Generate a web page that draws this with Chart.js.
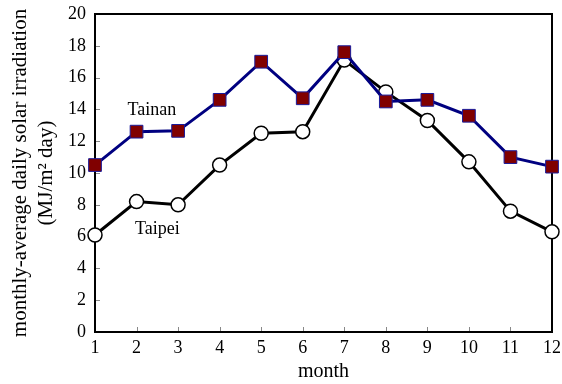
<!DOCTYPE html>
<html>
<head>
<meta charset="utf-8">
<script src="https://cdn.jsdelivr.net/npm/chart.js@4/dist/chart.umd.min.js"></script>
<style>
  html, body { margin: 0; padding: 0; background: #fff; }
  #wrap { width: 562px; height: 384px; }
</style>
</head>
<body>
<div id="wrap"><canvas id="myChart" width="562" height="384"></canvas></div>
<script>
var months = [1, 2, 3, 4, 5, 6, 7, 8, 9, 10, 11, 12];
var tainan = [10.5, 12.6, 12.65, 14.6, 17.0, 14.7, 17.6, 14.5, 14.6, 13.6, 11.0, 10.4];
var taipei = [6.1, 8.2, 8.0, 10.5, 12.5, 12.6, 17.1, 15.1, 13.3, 10.7, 7.6, 6.3];
var yTicks = [0, 2, 4, 6, 8, 10, 12, 14, 16, 18, 20];

var serif = '"Liberation Serif", "DejaVu Serif", serif';

// in-plot series labels (month, value)
var seriesLabels = [
  { text: 'Tainan', x: 2.37, y: 13.96 },
  { text: 'Taipei', x: 2.5, y: 6.48 }
];

var frame = {
  id: 'frame',
  beforeDatasetsDraw: function(chart) {
    var ctx = chart.ctx, a = chart.chartArea;
    var xs = chart.scales.x, ys = chart.scales.y;
    ctx.save();
    // inward ticks
    ctx.strokeStyle = '#888';
    ctx.lineWidth = 1;
    ctx.beginPath();
    months.forEach(function(m) {
      var px = Math.round(xs.getPixelForValue(m)) + 0.5;
      ctx.moveTo(px, a.bottom);
      ctx.lineTo(px, a.bottom - 5);
    });
    yTicks.forEach(function(v) {
      var py = Math.round(ys.getPixelForValue(v)) + 0.5;
      ctx.moveTo(a.left, py);
      ctx.lineTo(a.left + 5, py);
    });
    ctx.stroke();
    // box
    ctx.strokeStyle = '#000';
    ctx.lineWidth = 2;
    ctx.strokeRect(a.left, a.top, a.right - a.left, a.bottom - a.top);
    // series labels
    ctx.fillStyle = '#000';
    ctx.font = '18px ' + serif;
    ctx.textAlign = 'center';
    ctx.textBaseline = 'middle';
    seriesLabels.forEach(function(l) {
      ctx.fillText(l.text, xs.getPixelForValue(l.x), ys.getPixelForValue(l.y));
    });
    ctx.restore();
  }
};

new Chart('myChart', {
  type: 'line',
  data: {
    labels: months,
    datasets: [{
      label: 'Tainan',
      data: tainan,
      borderColor: '#000080',
      borderWidth: 3,
      backgroundColor: '#800000',
      pointStyle: 'rect',
      pointRadius: 9,
      pointBorderColor: '#1a1a9a',
      pointBorderWidth: 1,
      pointBackgroundColor: '#800000',
      clip: false
    }, {
      label: 'Taipei',
      data: taipei,
      borderColor: '#000',
      borderWidth: 3,
      backgroundColor: '#fff',
      pointStyle: 'circle',
      pointRadius: 7,
      pointBorderColor: '#000',
      pointBorderWidth: 1.5,
      pointBackgroundColor: '#fff',
      clip: false
    }]
  },
  options: {
    responsive: false,
    animation: false,
    layout: { padding: { top: 14, right: 9, left: 0, bottom: 0 } },
    plugins: {
      legend: { display: false },
      title: { display: false },
      tooltip: { enabled: false }
    },
    scales: {
      x: {
        type: 'linear',
        min: 1,
        max: 12,
        afterFit: function(s) {
          s.height = 52;
          s.paddingLeft = 0;
          s.paddingRight = 0;
        },
        afterBuildTicks: function(s) { s.ticks = months.map(function(v) { return { value: v }; }); },
        ticks: {
          color: '#000',
          padding: 5,
          maxRotation: 0,
          font: { size: 18, family: serif }
        },
        grid: { display: false, drawTicks: false },
        border: { display: false },
        title: {
          display: true,
          text: 'month',
          color: '#000',
          padding: { top: 0, bottom: 0 },
          font: { size: 20, family: serif }
        }
      },
      y: {
        min: 0,
        max: 20,
        afterFit: function(s) {
          s.width = 95;
          s.paddingTop = 0;
          s.paddingBottom = 0;
        },
        afterBuildTicks: function(s) { s.ticks = yTicks.map(function(v) { return { value: v }; }); },
        ticks: {
          color: '#000',
          padding: 9,
          font: { size: 18, family: serif }
        },
        grid: { display: false, drawTicks: false },
        border: { display: false },
        title: {
          display: true,
          text: ['monthly-average daily solar irradiation', '(MJ/m\u00B2 day)'],
          color: '#000',
          padding: { top: 7, bottom: 0 },
          font: { size: 21, family: serif, lineHeight: 1.25 }
        }
      }
    }
  },
  plugins: [frame]
});
</script>
</body>
</html>
